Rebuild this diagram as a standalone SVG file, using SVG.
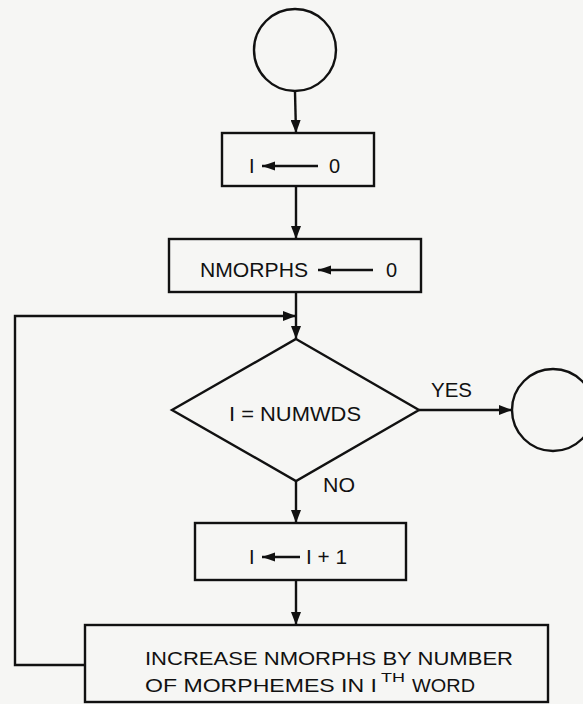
<svg xmlns="http://www.w3.org/2000/svg" width="583" height="704" viewBox="0 0 583 704">
<defs>
<marker id="ah" markerUnits="userSpaceOnUse" markerWidth="14" markerHeight="10" refX="13" refY="5" orient="auto">
<path d="M0,0 L13,5 L0,10 z" fill="#111"/>
</marker>
<marker id="ahs" markerUnits="userSpaceOnUse" markerWidth="14" markerHeight="10" refX="13" refY="4.5" orient="auto">
<path d="M0,0 L13,4.5 L0,9 z" fill="#111"/>
</marker>
<style>
.s{fill:none;stroke:#111;stroke-width:2.4}
.c{fill:none;stroke:#111;stroke-width:2.4}
.t{font-family:"Liberation Sans",Arial,sans-serif;font-size:20px;fill:#111}
.b{font-family:"Liberation Sans",Arial,sans-serif;font-size:19px;fill:#111}
.sup{font-family:"Liberation Sans",Arial,sans-serif;font-size:13px;fill:#111}
.la{stroke:#111;stroke-width:2.6;fill:none;marker-end:url(#ahs)}
</style>
</defs>
<rect width="583" height="704" fill="#f6f6f4"/>
<g id="connectors">
<line class="s" x1="295" y1="92" x2="296" y2="133" marker-end="url(#ah)"/>
<line class="s" x1="296" y1="186" x2="296" y2="239" marker-end="url(#ah)"/>
<line class="s" x1="296" y1="292" x2="296" y2="339" marker-end="url(#ah)"/>
<line class="s" x1="419" y1="410" x2="512" y2="410" marker-end="url(#ah)"/>
<line class="s" x1="296" y1="481" x2="296" y2="523" marker-end="url(#ah)"/>
<line class="s" x1="296" y1="580" x2="296" y2="625" marker-end="url(#ah)"/>
<polyline class="s" points="85,665 15,665 15,316 296,316" marker-end="url(#ah)"/>
<text class="t" x="431" y="397" textLength="41" lengthAdjust="spacingAndGlyphs">YES</text>
<text class="t" x="323" y="492" textLength="32" lengthAdjust="spacingAndGlyphs">NO</text>
</g>
<g id="start">
<circle class="c" cx="295" cy="50" r="41"/>
</g>
<g id="init-i">
<rect class="s" x="222" y="133" width="152" height="53"/>
<text class="t" x="249" y="173">I</text>
<line class="la" x1="318" y1="166" x2="262" y2="166"/>
<text class="t" x="329" y="173">0</text>
</g>
<g id="init-nmorphs">
<rect class="s" x="169" y="239" width="252" height="53"/>
<text class="t" x="200" y="277" textLength="108" lengthAdjust="spacingAndGlyphs">NMORPHS</text>
<line class="la" x1="373" y1="270" x2="318" y2="270"/>
<text class="t" x="386" y="277">0</text>
</g>
<g id="decision">
<polygon class="s" points="296,339 419,410 296,481 172,410"/>
<text class="t" x="229" y="421" textLength="132" lengthAdjust="spacingAndGlyphs">I = NUMWDS</text>
</g>
<g id="end">
<circle class="c" cx="553" cy="410" r="41"/>
</g>
<g id="increment">
<rect class="s" x="195" y="523" width="211" height="57"/>
<text class="t" x="249" y="564">I</text>
<line class="la" x1="300" y1="557" x2="262" y2="557"/>
<text class="t" x="306" y="564" textLength="41" lengthAdjust="spacingAndGlyphs">I + 1</text>
</g>
<g id="accumulate">
<rect class="s" x="85" y="625" width="463" height="77"/>
<text class="b" x="145" y="692" textLength="232" lengthAdjust="spacingAndGlyphs">OF MORPHEMES IN I</text>
<text class="b" x="145" y="665" textLength="368" lengthAdjust="spacingAndGlyphs">INCREASE NMORPHS BY NUMBER</text>
<text class="sup" x="381" y="682" textLength="24" lengthAdjust="spacingAndGlyphs">TH</text>
<text class="b" x="412" y="692" textLength="63" lengthAdjust="spacingAndGlyphs">WORD</text>
</g>
</svg>
